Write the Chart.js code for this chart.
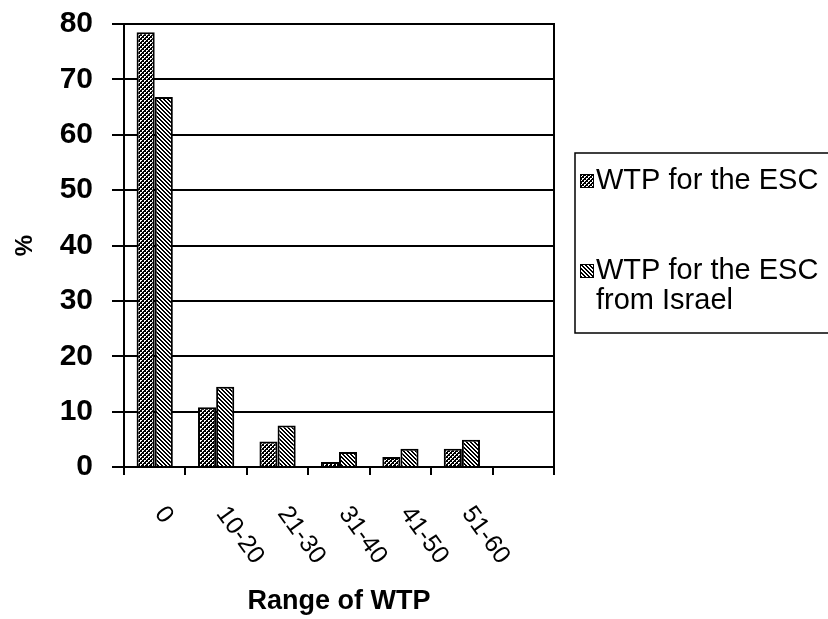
<!DOCTYPE html>
<html>
<head>
<meta charset="utf-8">
<script src="https://cdn.jsdelivr.net/npm/chart.js@4.4.0/dist/chart.umd.min.js"></script>
<style>
  html, body { margin: 0; padding: 0; background: #fff; }
  #wrap { width: 828px; height: 619px; }
</style>
</head>
<body>
<div id="wrap"><canvas id="wtpChart"></canvas></div>
<script>
const categories = ['0', '10-20', '21-30', '31-40', '41-50', '51-60', ''];
const wtpEsc = [78.5, 10.8, 4.6, 0.9, 1.8, 3.3, null];
const wtpEscIsrael = [66.8, 14.5, 7.5, 2.7, 3.3, 4.9, null];
const seriesNames = [['WTP for the ESC'], ['WTP for the ESC', 'from Israel']];
const yMin = 0;
const yMax = 80;
const yStep = 10;

const FONT = "'Liberation Sans', Arial, sans-serif";
Chart.defaults.font.family = FONT;
Chart.defaults.color = '#000';

// little tiles used as fills, like the old b/w excel patterns
function dotPattern() {
    const c = document.createElement('canvas');
    c.width = 4; c.height = 4;
    const g = c.getContext('2d');
    g.fillStyle = '#000';
    g.fillRect(0, 0, 4, 4);
    g.fillStyle = '#fff';
    g.fillRect(0, 0, 2, 1);
    g.fillRect(0, 1, 1, 1);
    g.fillRect(2, 2, 2, 1);
    g.fillRect(2, 3, 1, 1);
    return g.createPattern(c, 'repeat');
}

function stripePattern() {
    const c = document.createElement('canvas');
    c.width = 4; c.height = 4;
    const g = c.getContext('2d');
    g.fillStyle = '#fff';
    g.fillRect(0, 0, 4, 4);
    g.fillStyle = '#000';
    for (let i = 0; i < 4; i++) {
        g.fillRect(i, i, 1, 1);
        g.fillRect((i + 1) % 4, i, 1, 1);
    }
    return g.createPattern(c, 'repeat');
}

const fills = [dotPattern(), stripePattern()];

// x labels go down to the right, chart.js only rotates the other way
const slantLabels = {
    id: 'slantLabels',
    afterDraw(chart) {
        const ctx = chart.ctx;
        const xs = chart.scales.x;
        const top = chart.chartArea.bottom + 35;
        ctx.save();
        ctx.fillStyle = '#000';
        ctx.font = '25px ' + FONT;
        ctx.textAlign = 'left';
        ctx.textBaseline = 'top';
        categories.forEach((label, i) => {
            if (!label) return;
            const x = xs.getPixelForValue(i);
            ctx.save();
            ctx.translate(x + 15, top);
            ctx.rotate(54 * Math.PI / 180);
            ctx.fillText(label, 0, 0);
            ctx.restore();
        });
        ctx.restore();
    }
};

// right edge of the plot frame
const frameRight = {
    id: 'frameRight',
    afterDraw(chart) {
        const a = chart.chartArea;
        const ctx = chart.ctx;
        ctx.save();
        ctx.strokeStyle = '#000';
        ctx.lineWidth = 2;
        ctx.beginPath();
        ctx.moveTo(a.right, a.top - 1);
        ctx.lineTo(a.right, a.bottom);
        ctx.stroke();
        ctx.restore();
    }
};

// boxed legend on the right, runs off the edge of the picture
const boxLegend = {
    id: 'boxLegend',
    afterDraw(chart) {
        const ctx = chart.ctx;
        const left = chart.chartArea.right + 21;
        const top = 153;
        ctx.save();
        ctx.strokeStyle = '#000';
        ctx.lineWidth = 1.5;
        ctx.strokeRect(left, top, 300, 180);
        ctx.font = '29px ' + FONT;
        ctx.textAlign = 'left';
        ctx.textBaseline = 'middle';
        const rowY = [top + 28, top + 118];
        chart.data.datasets.forEach((ds, i) => {
            const y = rowY[i];
            ctx.fillStyle = ds.backgroundColor;
            ctx.fillRect(left + 5, y - 7, 14, 14);
            ctx.lineWidth = 1;
            ctx.strokeRect(left + 5.5, y - 6.5, 13, 13);
            ctx.fillStyle = '#000';
            seriesNames[i].forEach((line, j) => {
                ctx.fillText(line, left + 21, y + j * 30);
            });
        });
        ctx.restore();
    }
};

new Chart(document.getElementById('wtpChart'), {
    type: 'bar',
    data: {
        labels: categories,
        datasets: [
            {
                label: seriesNames[0].join(' '),
                data: wtpEsc,
                backgroundColor: fills[0],
                borderColor: '#000',
                borderWidth: 2,
                borderSkipped: 'bottom'
            },
            {
                label: seriesNames[1].join(' '),
                data: wtpEscIsrael,
                backgroundColor: fills[1],
                borderColor: '#000',
                borderWidth: 2,
                borderSkipped: 'bottom'
            }
        ]
    },
    options: {
        responsive: true,
        maintainAspectRatio: false,
        animation: false,
        datasets: {
            bar: { categoryPercentage: 0.59, barPercentage: 1.0 }
        },
        layout: { padding: { top: 24, right: 274, left: 0, bottom: 0 } },
        plugins: {
            legend: { display: false },
            tooltip: { enabled: false }
        },
        scales: {
            x: {
                offset: true,
                grid: {
                    offset: true,
                    drawOnChartArea: false,
                    drawTicks: true,
                    tickLength: 8,
                    color: '#000',
                    lineWidth: 2
                },
                border: { color: '#000', width: 2 },
                ticks: { display: false },
                title: {
                    display: true,
                    text: 'Range of WTP',
                    font: { size: 27, weight: 'bold' },
                    padding: { top: 0, bottom: 1 }
                },
                afterFit: (scale) => {
                    scale.height = 152;
                    scale.paddingLeft = 0;
                    scale.paddingRight = 0;
                }
            },
            y: {
                min: yMin,
                max: yMax,
                ticks: {
                    stepSize: yStep,
                    font: { size: 30, weight: 'bold' },
                    padding: 19
                },
                grid: {
                    color: '#000',
                    lineWidth: 2,
                    tickLength: 12
                },
                border: { color: '#000', width: 2 },
                title: {
                    display: true,
                    text: '%',
                    font: { size: 24, weight: 'bold' },
                    padding: { top: 11, bottom: 0 }
                },
                afterFit: (scale) => {
                    scale.width = 124;
                    scale.paddingTop = 0;
                    scale.paddingBottom = 0;
                }
            }
        }
    },
    plugins: [slantLabels, frameRight, boxLegend]
});
</script>
</body>
</html>
